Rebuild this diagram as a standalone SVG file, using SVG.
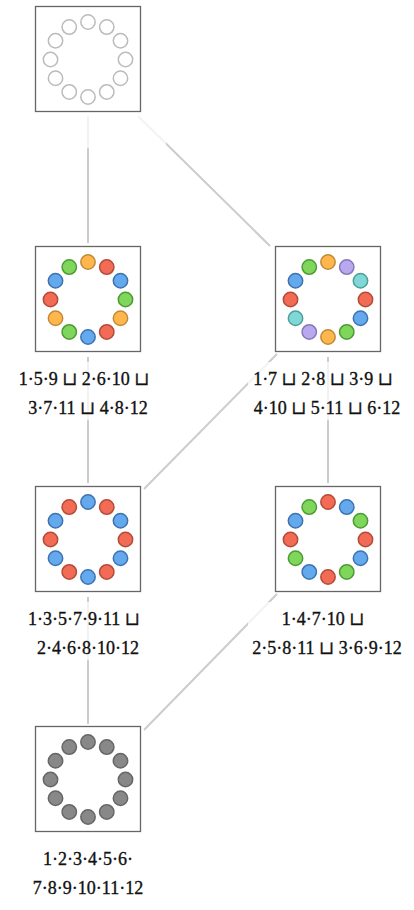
<svg xmlns="http://www.w3.org/2000/svg" width="414" height="910" viewBox="0 0 414 910">
<style>
.box{fill:#fff;stroke:#666;stroke-width:1.3}
.lbg{fill:#fff;fill-opacity:0.75}
.edge{stroke:#ccc;stroke-width:2;fill:none}
circle{stroke-width:1.5}
.e{fill:#fff;stroke:#bbb}
.o{fill:#FFB74D;stroke:#C08A36}
.r{fill:#F26B55;stroke:#B44A38}
.b{fill:#64A8EE;stroke:#3D74B0}
.g{fill:#7ED65A;stroke:#4E9A35}
.p{fill:#B9A8EE;stroke:#8778B8}
.t{fill:#7FD8D6;stroke:#4E9E9C}
.k{fill:#888;stroke:#666}
text{font-family:"Liberation Serif","DejaVu Serif",serif;font-size:18px;fill:#111;stroke:#111;stroke-width:0.35;text-anchor:middle}
</style>
<g id="connectors">
<line class="edge" x1="88" y1="116" x2="88" y2="243"/>
<line class="edge" x1="138" y1="116" x2="270" y2="246"/>
<line class="edge" x1="88" y1="357" x2="88" y2="483"/>
<line class="edge" x1="328" y1="357" x2="328" y2="483"/>
<line class="edge" x1="277" y1="354" x2="144" y2="489"/>
<line class="edge" x1="88" y1="597" x2="88" y2="724"/>
<line class="edge" x1="277" y1="594" x2="144" y2="730"/>
</g>
<g id="n0">
<rect class="lbg" x="10" y="112" width="156" height="36"/>
<rect class="box" x="35.5" y="6.5" width="105" height="105"/>
<g transform="translate(88,59.5)">
<circle class="e" cx="0" cy="-37.5" r="7.2"/><circle class="e" cx="18.75" cy="-32.48" r="7.2"/><circle class="e" cx="32.48" cy="-18.75" r="7.2"/><circle class="e" cx="37.5" cy="0" r="7.2"/><circle class="e" cx="32.48" cy="18.75" r="7.2"/><circle class="e" cx="18.75" cy="32.48" r="7.2"/><circle class="e" cx="0" cy="37.5" r="7.2"/><circle class="e" cx="-18.75" cy="32.48" r="7.2"/><circle class="e" cx="-32.48" cy="18.75" r="7.2"/><circle class="e" cx="-37.5" cy="0" r="7.2"/><circle class="e" cx="-32.48" cy="-18.75" r="7.2"/><circle class="e" cx="-18.75" cy="-32.48" r="7.2"/>
</g>
</g>
<g id="n1">
<rect class="lbg" x="16" y="362" width="144" height="58"/>
<rect class="box" x="35.5" y="246.5" width="105" height="105"/>
<g transform="translate(88,299.5)">
<circle class="o" cx="0" cy="-37.5" r="7.2"/><circle class="r" cx="18.75" cy="-32.48" r="7.2"/><circle class="b" cx="32.48" cy="-18.75" r="7.2"/><circle class="g" cx="37.5" cy="0" r="7.2"/><circle class="o" cx="32.48" cy="18.75" r="7.2"/><circle class="r" cx="18.75" cy="32.48" r="7.2"/><circle class="b" cx="0" cy="37.5" r="7.2"/><circle class="g" cx="-18.75" cy="32.48" r="7.2"/><circle class="o" cx="-32.48" cy="18.75" r="7.2"/><circle class="r" cx="-37.5" cy="0" r="7.2"/><circle class="b" cx="-32.48" cy="-18.75" r="7.2"/><circle class="g" cx="-18.75" cy="-32.48" r="7.2"/>
</g>
<text x="84" y="385">1·5·9 ⊔ 2·6·10 ⊔</text>
<text x="88" y="414">3·7·11 ⊔ 4·8·12</text>
</g>
<g id="n2">
<rect class="lbg" x="248" y="362" width="160" height="58"/>
<rect class="box" x="275.5" y="246.5" width="105" height="105"/>
<g transform="translate(328,299.5)">
<circle class="o" cx="0" cy="-37.5" r="7.2"/><circle class="p" cx="18.75" cy="-32.48" r="7.2"/><circle class="t" cx="32.48" cy="-18.75" r="7.2"/><circle class="r" cx="37.5" cy="0" r="7.2"/><circle class="b" cx="32.48" cy="18.75" r="7.2"/><circle class="g" cx="18.75" cy="32.48" r="7.2"/><circle class="o" cx="0" cy="37.5" r="7.2"/><circle class="p" cx="-18.75" cy="32.48" r="7.2"/><circle class="t" cx="-32.48" cy="18.75" r="7.2"/><circle class="r" cx="-37.5" cy="0" r="7.2"/><circle class="b" cx="-32.48" cy="-18.75" r="7.2"/><circle class="g" cx="-18.75" cy="-32.48" r="7.2"/>
</g>
<text x="323" y="385">1·7 ⊔ 2·8 ⊔ 3·9 ⊔</text>
<text x="327" y="414">4·10 ⊔ 5·11 ⊔ 6·12</text>
</g>
<g id="n3">
<rect class="lbg" x="22" y="602" width="132" height="58"/>
<rect class="box" x="35.5" y="486.5" width="105" height="105"/>
<g transform="translate(88,539.5)">
<circle class="b" cx="0" cy="-37.5" r="7.2"/><circle class="r" cx="18.75" cy="-32.48" r="7.2"/><circle class="b" cx="32.48" cy="-18.75" r="7.2"/><circle class="r" cx="37.5" cy="0" r="7.2"/><circle class="b" cx="32.48" cy="18.75" r="7.2"/><circle class="r" cx="18.75" cy="32.48" r="7.2"/><circle class="b" cx="0" cy="37.5" r="7.2"/><circle class="r" cx="-18.75" cy="32.48" r="7.2"/><circle class="b" cx="-32.48" cy="18.75" r="7.2"/><circle class="r" cx="-37.5" cy="0" r="7.2"/><circle class="b" cx="-32.48" cy="-18.75" r="7.2"/><circle class="r" cx="-18.75" cy="-32.48" r="7.2"/>
</g>
<text x="84" y="625">1·3·5·7·9·11 ⊔</text>
<text x="88" y="654">2·4·6·8·10·12</text>
</g>
<g id="n4">
<rect class="lbg" x="248" y="602" width="160" height="58"/>
<rect class="box" x="275.5" y="486.5" width="105" height="105"/>
<g transform="translate(328,539.5)">
<circle class="r" cx="0" cy="-37.5" r="7.2"/><circle class="b" cx="18.75" cy="-32.48" r="7.2"/><circle class="g" cx="32.48" cy="-18.75" r="7.2"/><circle class="r" cx="37.5" cy="0" r="7.2"/><circle class="b" cx="32.48" cy="18.75" r="7.2"/><circle class="g" cx="18.75" cy="32.48" r="7.2"/><circle class="r" cx="0" cy="37.5" r="7.2"/><circle class="b" cx="-18.75" cy="32.48" r="7.2"/><circle class="g" cx="-32.48" cy="18.75" r="7.2"/><circle class="r" cx="-37.5" cy="0" r="7.2"/><circle class="b" cx="-32.48" cy="-18.75" r="7.2"/><circle class="g" cx="-18.75" cy="-32.48" r="7.2"/>
</g>
<text x="323" y="625">1·4·7·10 ⊔</text>
<text x="327" y="654">2·5·8·11 ⊔ 3·6·9·12</text>
</g>
<g id="n5">
<rect class="lbg" x="30" y="842" width="116" height="58"/>
<rect class="box" x="35.5" y="726.5" width="105" height="105"/>
<g transform="translate(88,779.5)">
<circle class="k" cx="0" cy="-37.5" r="7.2"/><circle class="k" cx="18.75" cy="-32.48" r="7.2"/><circle class="k" cx="32.48" cy="-18.75" r="7.2"/><circle class="k" cx="37.5" cy="0" r="7.2"/><circle class="k" cx="32.48" cy="18.75" r="7.2"/><circle class="k" cx="18.75" cy="32.48" r="7.2"/><circle class="k" cx="0" cy="37.5" r="7.2"/><circle class="k" cx="-18.75" cy="32.48" r="7.2"/><circle class="k" cx="-32.48" cy="18.75" r="7.2"/><circle class="k" cx="-37.5" cy="0" r="7.2"/><circle class="k" cx="-32.48" cy="-18.75" r="7.2"/><circle class="k" cx="-18.75" cy="-32.48" r="7.2"/>
</g>
<text x="88" y="865">1·2·3·4·5·6·</text>
<text x="88" y="894">7·8·9·10·11·12</text>
</g>
</svg>
